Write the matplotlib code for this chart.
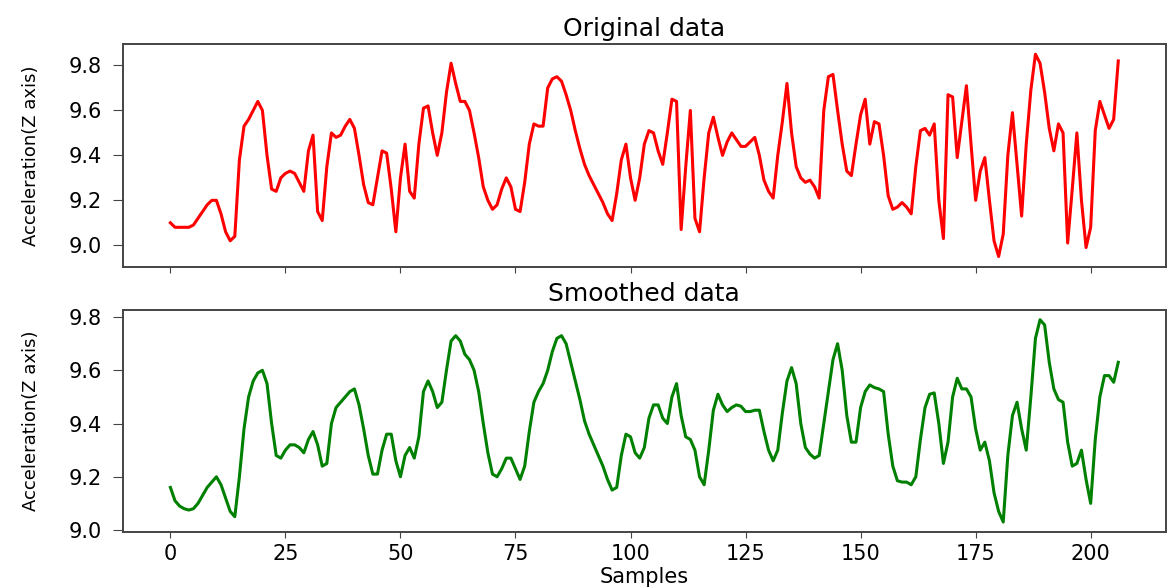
import matplotlib
matplotlib.use("Agg")
import matplotlib.pyplot as plt
from matplotlib.ticker import MultipleLocator

# Acceleration readings (Z axis), one per sample
original = [
    9.10, 9.08, 9.08, 9.08, 9.08, 9.09, 9.12, 9.15, 9.18, 9.20,
    9.20, 9.14, 9.06, 9.02, 9.04, 9.38, 9.53, 9.56, 9.60, 9.64,
    9.60, 9.40, 9.25, 9.24, 9.30, 9.32, 9.33, 9.32, 9.28, 9.24,
    9.42, 9.49, 9.15, 9.11, 9.35, 9.50, 9.48, 9.49, 9.53, 9.56,
    9.52, 9.40, 9.27, 9.19, 9.18, 9.30, 9.42, 9.41, 9.25, 9.06,
    9.30, 9.45, 9.24, 9.21, 9.45, 9.61, 9.62, 9.50, 9.40, 9.50,
    9.68, 9.81, 9.72, 9.64, 9.64, 9.60, 9.50, 9.39, 9.26, 9.20,
    9.16, 9.18, 9.25, 9.30, 9.26, 9.16, 9.15, 9.28, 9.45, 9.54,
    9.53, 9.53, 9.70, 9.74, 9.75, 9.73, 9.67, 9.60, 9.51, 9.43,
    9.36, 9.31, 9.27, 9.23, 9.19, 9.14, 9.11, 9.23, 9.38, 9.45,
    9.30, 9.20, 9.30, 9.45, 9.51, 9.50, 9.42, 9.36, 9.50, 9.65,
    9.64, 9.07, 9.35, 9.60, 9.12, 9.06, 9.30, 9.50, 9.57, 9.48,
    9.40, 9.46, 9.50, 9.47, 9.44, 9.44, 9.46, 9.48, 9.40, 9.29,
    9.24, 9.21, 9.40, 9.55, 9.72, 9.50, 9.35, 9.30, 9.28, 9.29,
    9.26, 9.21, 9.60, 9.75, 9.76, 9.60, 9.45, 9.33, 9.31, 9.45,
    9.58, 9.65, 9.45, 9.55, 9.54, 9.40, 9.22, 9.16, 9.17, 9.19,
    9.17, 9.14, 9.35, 9.51, 9.52, 9.49, 9.54, 9.20, 9.03, 9.67,
    9.66, 9.39, 9.55, 9.71, 9.45, 9.20, 9.33, 9.39, 9.20, 9.02,
    8.95, 9.05, 9.40, 9.59, 9.36, 9.13, 9.45, 9.69, 9.85, 9.81,
    9.68, 9.52, 9.42, 9.54, 9.50, 9.01, 9.25, 9.50, 9.20, 8.99,
    9.08, 9.51, 9.64, 9.58, 9.52, 9.56, 9.82,
]

smoothed = [
    9.16, 9.11, 9.09, 9.08, 9.075, 9.08, 9.10, 9.13, 9.16, 9.18,
    9.20, 9.17, 9.12, 9.07, 9.05, 9.20, 9.38, 9.50, 9.56, 9.59,
    9.60, 9.55, 9.40, 9.28, 9.27, 9.30, 9.32, 9.32, 9.31, 9.29,
    9.34, 9.37, 9.32, 9.24, 9.25, 9.40, 9.46, 9.48, 9.50, 9.52,
    9.53, 9.47, 9.38, 9.28, 9.21, 9.21, 9.30, 9.36, 9.36, 9.26,
    9.20, 9.28, 9.31, 9.27, 9.35, 9.52, 9.56, 9.52, 9.46, 9.48,
    9.60, 9.71, 9.73, 9.71, 9.66, 9.64, 9.60, 9.52, 9.40, 9.29,
    9.21, 9.20, 9.23, 9.27, 9.27, 9.23, 9.19, 9.24, 9.37, 9.48,
    9.52, 9.55, 9.60, 9.67, 9.72, 9.73, 9.70, 9.63, 9.56, 9.49,
    9.41, 9.36, 9.32, 9.28, 9.24, 9.19, 9.15, 9.16, 9.28, 9.36,
    9.35, 9.29, 9.27, 9.31, 9.42, 9.47, 9.47, 9.42, 9.40, 9.50,
    9.55, 9.43, 9.35, 9.34, 9.30, 9.20, 9.17, 9.30, 9.45, 9.51,
    9.47, 9.445, 9.46, 9.47, 9.465, 9.445, 9.445, 9.45, 9.45, 9.37,
    9.30, 9.26, 9.30, 9.44, 9.56, 9.61, 9.55, 9.40, 9.31, 9.285,
    9.27, 9.28, 9.40, 9.52, 9.64, 9.70, 9.60, 9.43, 9.33, 9.33,
    9.46, 9.52, 9.545, 9.535, 9.53, 9.52, 9.36, 9.24, 9.185, 9.18,
    9.18, 9.17, 9.20, 9.34, 9.46, 9.51, 9.515, 9.40, 9.25, 9.33,
    9.50, 9.57, 9.53, 9.53, 9.50, 9.38, 9.30, 9.33, 9.26, 9.14,
    9.07, 9.03, 9.28, 9.43, 9.48, 9.38, 9.30, 9.50, 9.72, 9.79,
    9.77, 9.63, 9.53, 9.49, 9.48, 9.33, 9.24, 9.25, 9.30, 9.19,
    9.10, 9.34, 9.50, 9.58, 9.58, 9.555, 9.63,
]

samples = list(range(len(original)))


def main():
    fig, (ax1, ax2) = plt.subplots(2, 1, sharex=True, figsize=(11.68, 5.88), dpi=100)
    fig.subplots_adjust(left=0.1053, right=0.998, top=0.925, bottom=0.095, hspace=0.193)

    ax1.plot(samples, original, c="red", lw=2.2)
    ax1.set_title("Original data", fontsize=18)

    ax2.plot(samples, smoothed, c="green", lw=2.2)
    ax2.set_title("Smoothed data", fontsize=18)
    ax2.set_xlabel("Samples", fontsize=15, labelpad=2)
    ax2.xaxis.set_major_locator(MultipleLocator(25))

    for ax in (ax1, ax2):
        ax.set_ylabel("Acceleration(Z axis)", fontsize=13)
        ax.yaxis.set_label_coords(-0.08, 0.5)
        ax.tick_params(axis="y", labelsize=15, length=7, pad=8, color="#444444")
        ax.tick_params(axis="x", labelsize=15, length=4.5, pad=4, color="#444444")
        for sp in ax.spines.values():
            sp.set_color("#444444")
            sp.set_linewidth(1.4)

    fig.savefig("out.png", dpi=100)


if __name__ == "__main__":
    main()
